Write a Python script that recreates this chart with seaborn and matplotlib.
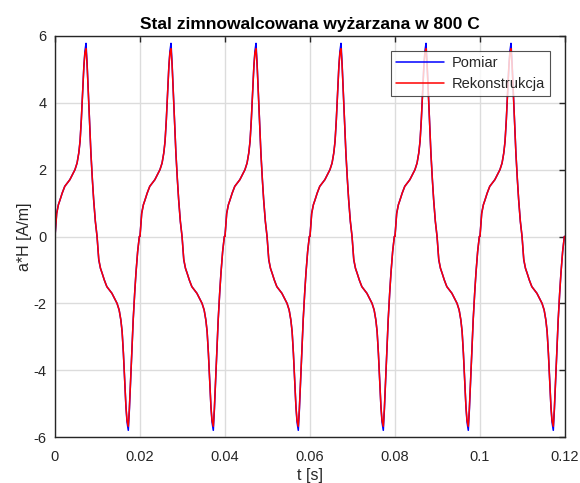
import numpy as np
import pandas as pd
import matplotlib
matplotlib.use("Agg")
import matplotlib.pyplot as plt
import seaborn as sns

# One period (20 ms) of the field waveform, time in ms
period_t_ms = [0.0, 0.4, 0.8, 1.2, 1.7, 2.3, 2.9, 3.5, 4.1, 4.7, 5.2, 5.6, 5.9,
               6.2, 6.5, 6.8, 7.05, 7.3, 7.55, 7.85, 8.15, 8.45, 8.8, 9.1,
               9.5, 9.9,
               10.3, 10.7, 11.1, 11.6, 12.2, 12.8, 13.4, 14.0, 14.6, 15.1,
               15.5, 15.8, 16.1, 16.4, 16.7, 16.95, 17.25, 17.5, 17.8, 18.1,
               18.4, 18.75, 19.05, 19.45, 19.85]
h_measured = [0.0, 0.7, 0.95, 1.1, 1.3, 1.5, 1.6, 1.7, 1.85, 2.0, 2.2, 2.5, 2.85,
              3.5, 4.3, 5.1, 5.55, 5.78, 5.2, 4.3, 3.4, 2.5, 1.7, 1.1,
              0.45, 0.0,
              -0.7, -0.95, -1.1, -1.3, -1.5, -1.6, -1.7, -1.85, -2.0, -2.2,
              -2.5, -2.85, -3.5, -4.3, -5.1, -5.55, -5.8, -5.2, -4.3, -3.4,
              -2.5, -1.7, -1.1, -0.45, 0.0]
h_reconstructed = [0.0, 0.68, 0.95, 1.1, 1.3, 1.5, 1.6, 1.7, 1.85, 2.0, 2.2, 2.5, 2.85,
                   3.5, 4.3, 5.1, 5.5, 5.62, 5.15, 4.3, 3.4, 2.5, 1.7, 1.1,
                   0.45, 0.0,
                   -0.68, -0.95, -1.1, -1.3, -1.5, -1.6, -1.7, -1.85, -2.0, -2.2,
                   -2.5, -2.85, -3.5, -4.3, -5.1, -5.5, -5.68, -5.15, -4.3, -3.4,
                   -2.5, -1.7, -1.1, -0.45, 0.0]
n_periods = 6
period_ms = 20.0

x_ticks = [0, 0.02, 0.04, 0.06, 0.08, 0.1, 0.12]
x_tick_labels = ["0", "0.02", "0.04", "0.06", "0.08", "0.1", "0.12"]
y_ticks = [-6, -4, -2, 0, 2, 4, 6]

series_names = ["Pomiar", "Rekonstrukcja"]
series_colors = {"Pomiar": "#0000ff", "Rekonstrukcja": "#ff0000"}

rows = []
for name, vals in zip(series_names, [h_measured, h_reconstructed]):
    for k in range(n_periods):
        for tm, h in zip(period_t_ms, vals):
            rows.append((name, (tm + k * period_ms) / 1000.0, h))
    rows.append((name, n_periods * period_ms / 1000.0, vals[0]))
df = pd.DataFrame(rows, columns=["series", "t", "H"])

sns.set_style("white")
plt.rcParams["font.family"] = ["Liberation Sans", "DejaVu Sans"]
plt.rcParams["axes.unicode_minus"] = False

fig = plt.figure(figsize=(5.8, 4.83), dpi=100)
ax = fig.add_axes([0.0948, 0.0952, 0.8793, 0.8303])

sns.lineplot(data=df, x="t", y="H", hue="series", hue_order=series_names,
             palette=series_colors, sort=False, estimator=None,
             linewidth=1.1, ax=ax)

ax.set_xlim(0, 0.12)
ax.set_ylim(-6, 6)
ax.set_xticks(x_ticks)
ax.set_xticklabels(x_tick_labels)
ax.set_yticks(y_ticks)
ax.grid(True, color="#dcdcdc", linewidth=1.0)
ax.set_axisbelow(True)
ax.tick_params(direction="in", length=4, width=1, colors="#262626",
               labelsize=10.5, labelcolor="#262626", top=True, right=True)
ax.tick_params(axis="x", pad=9)
ax.tick_params(axis="y", pad=6)
for s in ax.spines.values():
    s.set_visible(True)
    s.set_color("#262626")
    s.set_linewidth(1.0)

ax.set_xlabel("t [s]", fontsize=11.5, color="#262626", labelpad=3)
ax.set_ylabel("a*H [A/m]", fontsize=11.5, color="#262626", labelpad=1)
ax.set_title("Stal zimnowalcowana wyżarzana w 800 C", fontsize=12.5,
             fontweight="bold", color="#000000", pad=5)

leg = ax.legend(loc="upper right", bbox_to_anchor=(0.9706, 0.9626),
                borderaxespad=0, fontsize=10.5,
                frameon=True, fancybox=False, edgecolor="#262626",
                borderpad=0.35, handlelength=3.3, handletextpad=0.5,
                labelspacing=0.45)
leg.get_frame().set_linewidth(0.8)
leg.set_title(None)

fig.savefig("out.png", dpi=100)
